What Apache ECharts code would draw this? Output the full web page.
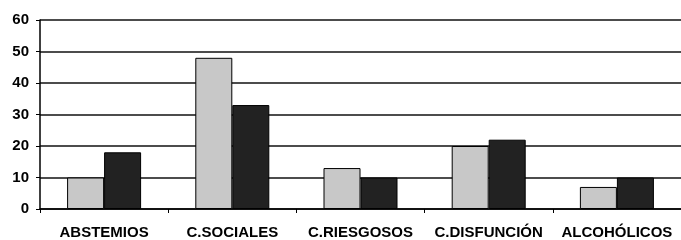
<!DOCTYPE html>
<html>
<head>
<meta charset="utf-8">
<script src="https://cdn.jsdelivr.net/npm/echarts@6/dist/echarts.min.js"></script>
<style>
  html, body { margin: 0; padding: 0; background: #fff; }
  #main { width: 681px; height: 240px; }
</style>
</head>
<body>
<div id="main"></div>
<script>
var categories = ['ABSTEMIOS', 'C.SOCIALES', 'C.RIESGOSOS', 'C.DISFUNCIÓN', 'ALCOHÓLICOS'];
var lightValues = [10, 48, 13, 20, 7];
var darkValues = [18, 33, 10, 22, 10];
var yTicks = [0, 10, 20, 30, 40, 50, 60];

var myChart = echarts.init(document.getElementById('main'));

var labelFont = {
    fontFamily: 'Liberation Sans, Arial, sans-serif',
    fontWeight: 'bold',
    fontSize: 15,
    color: '#000'
};

var option = {
    animation: false,
    grid: { left: 40, right: -4, top: 20, bottom: 30 },
    xAxis: {
        type: 'category',
        data: categories,
        axisLine: { lineStyle: { color: '#000', width: 1.5 } },
        axisTick: { show: true, alignWithLabel: false, length: 4, lineStyle: { color: '#000' } },
        axisLabel: Object.assign({ margin: 16, interval: 0 }, labelFont)
    },
    yAxis: {
        type: 'value',
        min: yTicks[0],
        max: yTicks[yTicks.length - 1],
        interval: 10,
        axisLine: { show: true, lineStyle: { color: '#000', width: 1.5 } },
        axisTick: { show: true, length: 4, lineStyle: { color: '#000' } },
        axisLabel: Object.assign({ margin: 11 }, labelFont),
        splitLine: { lineStyle: { color: '#111', width: 1.5 } }
    },
    series: [
        {
            type: 'bar',
            data: lightValues,
            barWidth: 37,
            barGap: '0%',
            itemStyle: { color: '#c8c8c8', borderColor: '#000', borderWidth: 1 }
        },
        {
            type: 'bar',
            data: darkValues,
            barWidth: 37,
            barGap: '0%',
            itemStyle: { color: '#222222', borderColor: '#000', borderWidth: 1 }
        }
    ]
};

myChart.setOption(option);
</script>
</body>
</html>
